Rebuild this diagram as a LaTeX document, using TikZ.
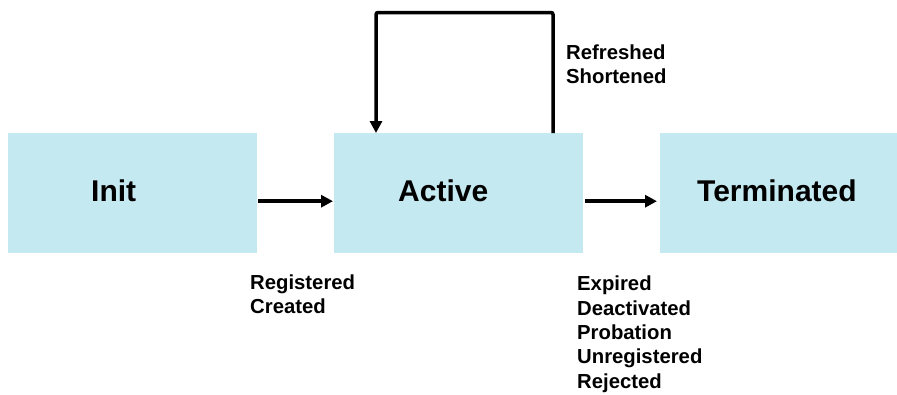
\documentclass[tikz,border=0pt]{standalone}
\usepackage{fontspec}
\setmainfont{Liberation Sans}
\usetikzlibrary{arrows.meta,calc}
\definecolor{statefill}{RGB}{197,233,240}
\begin{document}
\begin{tikzpicture}[x=1pt,y=-1pt,
  state/.style={fill=statefill,draw=none,minimum width=#1,minimum height=120pt,
    inner sep=0pt,anchor=north west},
  statename/.style={font=\bfseries\fontsize{30}{36}\selectfont,inner sep=0pt,anchor=base west},
  % event lists are placed by the baseline of their last line
  note/.style={font=\bfseries\fontsize{20.3}{24.3}\selectfont,align=left,inner sep=0pt,anchor=base west},
  flow/.style={line width=3.5pt,-{Triangle[length=12pt,width=12pt]}}]
\useasboundingbox (0,0) rectangle (897,394);

% state boxes
\node[state=249pt] (init)   at (8,133)   {};
\node[state=249pt] (active) at (334,133) {};
\node[state=240pt] (term)   at (660,133) {};

% state names
\node[statename] (initname)   at (91,201)  {Init};
\node[statename] (activename) at (398,201) {Active};
\node[statename] (termname)   at (697,201) {Terminated};

% transitions
\draw[flow] ($(init.east)+(1,8)$) -- ($(active.west)+(-1,8)$);
\draw[flow] ($(active.east)+(2,8)$) -- ($(term.west)+(-3,8)$);
\draw[flow,rounded corners=2pt] ($(active.north west)+(219,0)$) -- ++(0,-120.5)
  -| ($(active.north west)+(42,0)$);

% transition events
\node[note] (loopev)  at (566,83.5)  {Refreshed\\Shortened};
\node[note] (initev)  at (250,313.5) {Registered\\Created};
\node[note] (termev)  at (577,388)   {Expired\\Deactivated\\Probation\\Unregistered\\Rejected};
\end{tikzpicture}
\end{document}
